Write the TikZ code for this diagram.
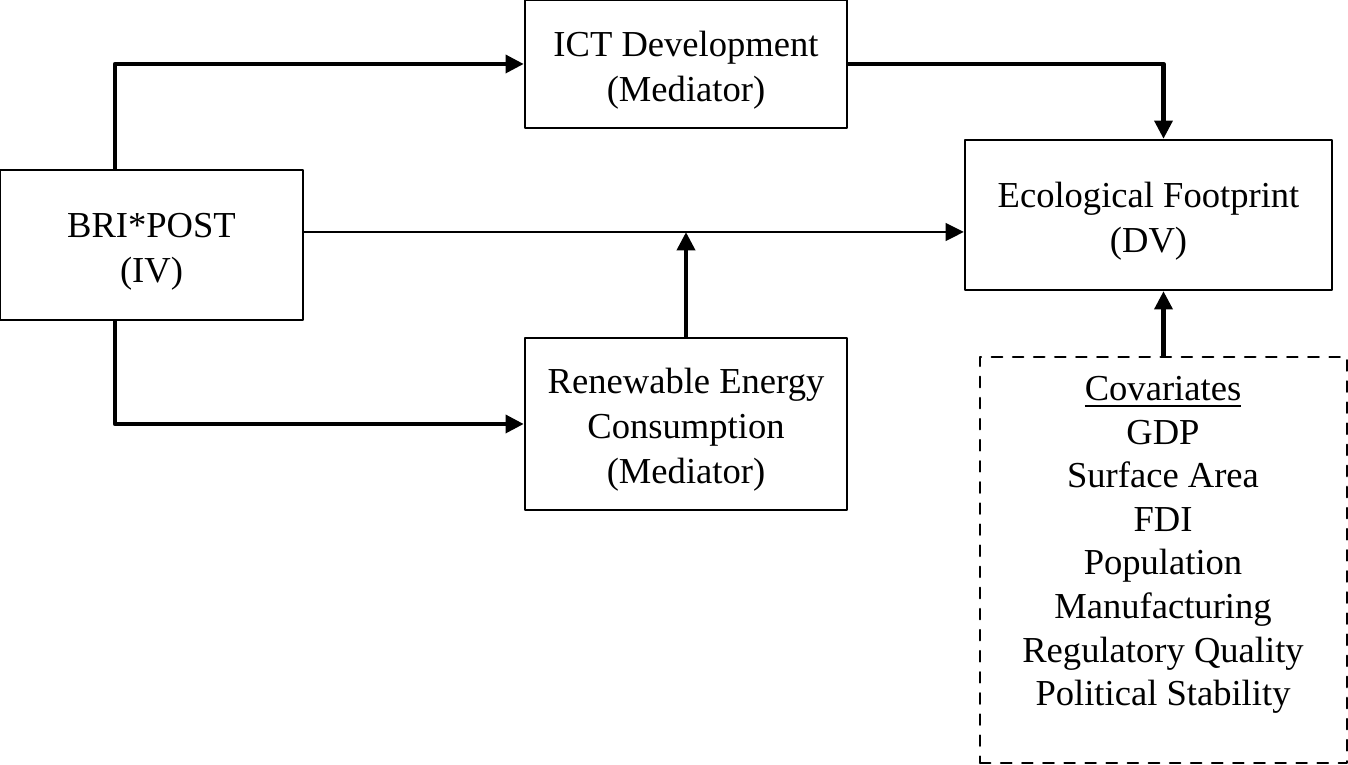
\documentclass[tikz,border=0pt]{standalone}
\usepackage{fontspec}
\setmainfont{Liberation Serif}
\usepackage{tikz}
\usetikzlibrary{arrows.meta,arrows,calc}
\newcommand{\vlift}[1]{\raisebox{-1.7pt}[\height][\depth]{\begin{tabular}{@{}c@{}}#1\end{tabular}}}

\begin{document}
\begin{tikzpicture}[line cap=round,line join=round,>={Triangle[length=5.2pt,width=5pt]},x=0.01cm,y=-0.01cm]
\tikzset{varbox/.style={draw,line width=0.6pt,align=center,inner sep=0pt,font=\fontsize{10.4}{12.8}\selectfont},
bigarrow/.style={->,line width=1.3pt,line cap=butt},
thinarrow/.style={->,line width=0.75pt,line cap=butt}}
\useasboundingbox (0,0) rectangle (1348,765);
\node[varbox,minimum width=3.03cm,minimum height=1.5cm] (bri) at (151.5,245) {\vlift{BRI*POST\\(IV)}};
\node[varbox,minimum width=3.22cm,minimum height=1.28cm] (ict) at (686,64) {\vlift{ICT Development\\(Mediator)}};
\node[varbox,minimum width=3.67cm,minimum height=1.5cm] (eco) at (1148.5,215) {\vlift{Ecological Footprint\\(DV)}};
\node[varbox,minimum width=3.22cm,minimum height=1.72cm] (ren) at (686,424) {\vlift{Renewable Energy\\Consumption\\(Mediator)}};
\node[varbox,dashed,minimum width=3.67cm,minimum height=4.06cm] (cov) at (1163.5,560) {};
\node[align=center,font=\fontsize{10.4}{12.4}\selectfont] (covtxt) at (1163,545) {\underline{Covariates}\\GDP\\Surface Area\\FDI\\Population\\Manufacturing\\Regulatory Quality\\Political Stability};
\coordinate (up) at (115,65);
\coordinate (mid) at (686,232);
\draw[bigarrow] (bri.north -| up) |- (ict.west);
\draw[bigarrow] (bri.south -| up) |- (ren.west);
\draw[bigarrow] (ict.east) -| (eco.north -| cov.north);
\draw[thinarrow] (bri.east |- mid) -- (eco.west |- mid);
\draw[bigarrow] (ren.north) -- (mid);
\draw[bigarrow] (cov.north) -- (cov.north |- eco.south);
\end{tikzpicture}
\end{document}
